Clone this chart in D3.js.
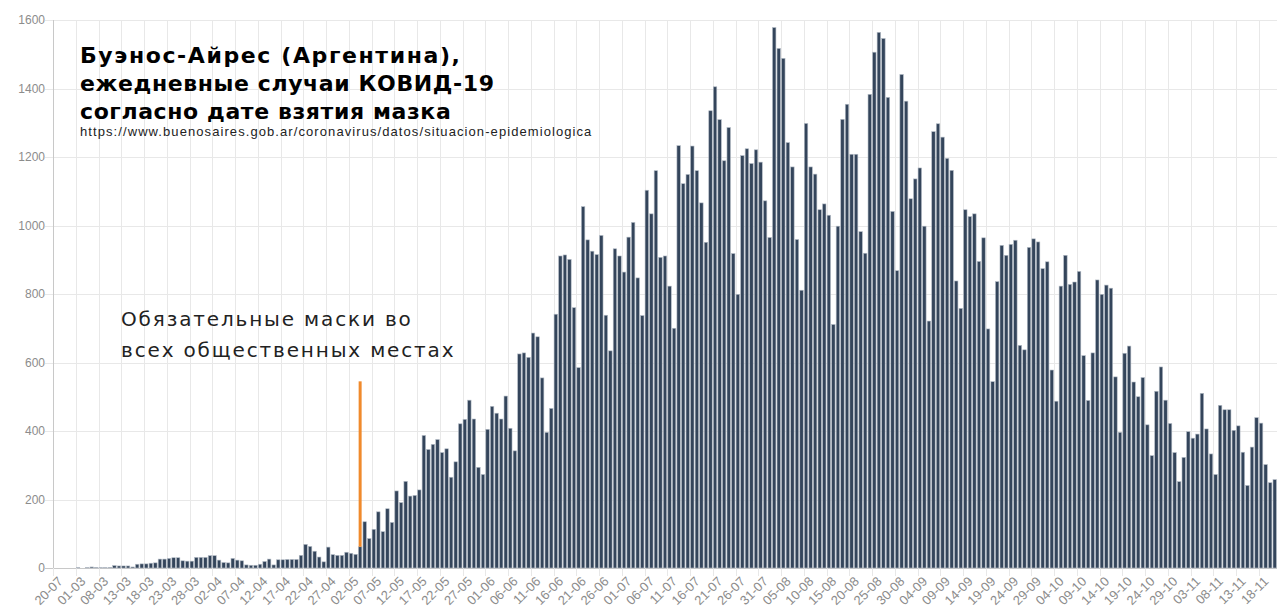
<!DOCTYPE html>
<html>
<head>
<meta charset="utf-8">
<script src="https://d3js.org/d3.v7.min.js"></script>
<style>
  body { margin: 0; background: #fff; }
  #chart { width: 1277px; height: 612px; }
</style>
</head>
<body>
<div id="chart"></div>
<script>
// first few dates of the series are irregular, after 08-03 it is daily
const firstDays = ["20-07", "24-02", "26-02", "27-02", "29-02", "01-03", "02-03", "03-03", "05-03", "06-03"];
const dailyStart = Date.UTC(2020, 2, 8);
const dailyEnd = Date.UTC(2020, 10, 22);

// daily cases
const cases = [
    0, 0, 0, 0, 0, 1, 0, 1, 3, 2,
    1, 1, 2, 7, 6, 6, 6, 3, 11, 12,
    12, 14, 15, 26, 26, 28, 30, 30, 21, 20,
    20, 31, 31, 31, 36, 36, 23, 16, 15, 28,
    23, 21, 9, 8, 8, 11, 19, 26, 9, 24,
    24, 25, 25, 25, 37, 69, 63, 49, 32, 18,
    61, 39, 37, 37, 46, 43, 40, 62, 135, 86,
    113, 164, 106, 173, 133, 225, 191, 253, 210, 212,
    228, 387, 346, 361, 375, 337, 348, 265, 310, 421,
    434, 490, 435, 294, 273, 405, 472, 452, 435, 502,
    408, 342, 625, 628, 615, 686, 675, 555, 396, 466,
    741, 911, 914, 901, 760, 585, 1055, 958, 925, 915,
    971, 738, 634, 932, 911, 864, 966, 1009, 847, 737,
    1103, 1034, 1160, 907, 911, 823, 700, 1233, 1122, 1149,
    1232, 1160, 1066, 951, 1335, 1405, 1309, 1189, 1286, 918,
    799, 1204, 1224, 1181, 1221, 1185, 1072, 965, 1578, 1517,
    1488, 1242, 1171, 959, 811, 1298, 1171, 1150, 1046, 1063,
    1030, 711, 998, 1310, 1354, 1208, 1208, 982, 919, 1383,
    1506, 1564, 1546, 1374, 1041, 868, 1441, 1363, 1078, 1136,
    1168, 998, 721, 1274, 1297, 1258, 1196, 1161, 838, 758,
    1046, 1026, 1034, 895, 964, 698, 544, 836, 942, 913,
    945, 957, 650, 637, 936, 961, 952, 874, 894, 578,
    487, 823, 913, 828, 835, 866, 620, 489, 628, 841,
    799, 826, 817, 558, 396, 627, 648, 543, 500, 556,
    418, 328, 516, 587, 490, 422, 337, 252, 323, 398,
    379, 391, 510, 406, 333, 273, 475, 462, 462, 402,
    415, 338, 241, 353, 439, 423, 302, 249, 258
];

const yTicks = [0, 200, 400, 600, 800, 1000, 1200, 1400, 1600];
const labelEvery = 5;

// annotation: mandatory masks
const maskIndex = 67;
const maskTop = 545;
const maskText = ["Обязательные маски во", "всех общественных местах"];

const titleLines = ["Буэнос-Айрес (Аргентина),", "ежедневные случаи КОВИД-19", "согласно дате взятия мазка"];
const sourceText = "https://www.buenosaires.gob.ar/coronavirus/datos/situacion-epidemiologica";

const fmt = d3.utcFormat("%d-%m");
const days = firstDays.concat(d3.utcDay.range(new Date(dailyStart), new Date(dailyEnd)).map(fmt));

function drawChart() {
    const margin = {top: 20, right: 0, bottom: 44, left: 53},
        width = 1277 - margin.left - margin.right,
        height = 612 - margin.top - margin.bottom;

    const svg = d3.select("#chart")
        .append("svg")
        .attr("width", 1277)
        .attr("height", 612);

    const g = svg.append("g")
        .attr("transform", "translate(" + margin.left + "," + margin.top + ")");

    // bars
    const x = d3.scaleBand()
        .domain(d3.range(days.length))
        .range([0, width])
        .paddingInner(0.24)
        .paddingOuter(0.12);

    // same bands without padding, grid lines sit on band edges
    const xEdge = d3.scaleBand()
        .domain(d3.range(days.length))
        .range([0, width]);

    const y = d3.scaleLinear()
        .domain([0, 1600])
        .range([height, 0]);

    const tickIdx = d3.range(0, days.length, labelEvery);
    const gridColor = "#e8e8e8";
    const tickColor = "#8c8c8c";

    // horizontal grid + y labels
    g.append("g")
        .selectAll("line")
        .data(yTicks)
        .join("line")
        .attr("x1", -8)
        .attr("x2", width)
        .attr("y1", function (d) { return Math.round(y(d)) + 0.5; })
        .attr("y2", function (d) { return Math.round(y(d)) + 0.5; })
        .attr("stroke", function (d) { return d === 0 ? "#c8c8c8" : gridColor; });

    g.append("g")
        .selectAll("text")
        .data(yTicks)
        .join("text")
        .attr("x", -8)
        .attr("y", function (d) { return y(d); })
        .attr("dy", "0.35em")
        .attr("text-anchor", "end")
        .attr("font-family", "Liberation Sans, Arial, sans-serif")
        .attr("font-size", "12px")
        .attr("fill", tickColor)
        .text(function (d) { return d; });

    // vertical grid at every labelled day
    g.append("g")
        .selectAll("line")
        .data(tickIdx)
        .join("line")
        .attr("x1", function (d) { return Math.round(xEdge(d)) + 0.5; })
        .attr("x2", function (d) { return Math.round(xEdge(d)) + 0.5; })
        .attr("y1", 0)
        .attr("y2", height + 8)
        .attr("stroke", gridColor);

    // y axis line
    g.append("line")
        .attr("x1", 0.5).attr("x2", 0.5)
        .attr("y1", 0).attr("y2", height)
        .attr("stroke", "#c8c8c8");

    g.append("g")
        .selectAll("rect")
        .data(cases)
        .join("rect")
        .attr("x", function (d, i) { return x(i); })
        .attr("y", function (d) { return y(d); })
        .attr("width", x.bandwidth())
        .attr("height", function (d) { return height - y(d); })
        .attr("fill", "#34455b")
        .attr("stroke", "#b4bcc6")
        .attr("stroke-width", 0.6);

    // x labels, rotated
    g.append("g")
        .selectAll("text")
        .data(tickIdx)
        .join("text")
        .attr("transform", function (d) {
            return "translate(" + (x(d) + x.bandwidth() / 2 + 5) + "," + (height + 11) + ") rotate(-45)";
        })
        .attr("text-anchor", "end")
        .attr("dy", "0.35em")
        .attr("font-family", "Liberation Sans, Arial, sans-serif")
        .attr("font-size", "13px")
        .attr("fill", tickColor)
        .text(function (d) { return days[d]; });

    // orange marker line
    const mx = x(maskIndex) + x.bandwidth() / 2;
    g.append("line")
        .attr("x1", mx).attr("x2", mx)
        .attr("y1", y(maskTop))
        .attr("y2", y(cases[maskIndex]))
        .attr("stroke", "#f08a2c")
        .attr("stroke-width", 3);

    // annotation text
    svg.append("g")
        .selectAll("text")
        .data(maskText)
        .join("text")
        .attr("x", 121)
        .attr("y", function (d, i) { return 326 + i * 31; })
        .attr("font-family", "DejaVu Sans, sans-serif")
        .attr("font-size", "20px")
        .attr("letter-spacing", "1.85px")
        .attr("fill", "#222")
        .text(function (d) { return d; });

    // title, first line is set a bit looser
    svg.append("g")
        .selectAll("text")
        .data(titleLines)
        .join("text")
        .attr("x", 80)
        .attr("y", function (d, i) { return 63 + i * 28; })
        .attr("font-family", "DejaVu Sans, sans-serif")
        .attr("font-weight", "bold")
        .attr("font-size", "22px")
        .attr("letter-spacing", function (d, i) { return i === 0 ? "1.6px" : "0.6px"; })
        .attr("fill", "#000")
        .text(function (d) { return d; });

    svg.append("text")
        .attr("x", 80)
        .attr("y", 136)
        .attr("font-family", "Liberation Sans, Arial, sans-serif")
        .attr("font-size", "13px")
        .attr("letter-spacing", "1.08px")
        .attr("fill", "#222")
        .text(sourceText);
}

drawChart();
</script>
</body>
</html>
